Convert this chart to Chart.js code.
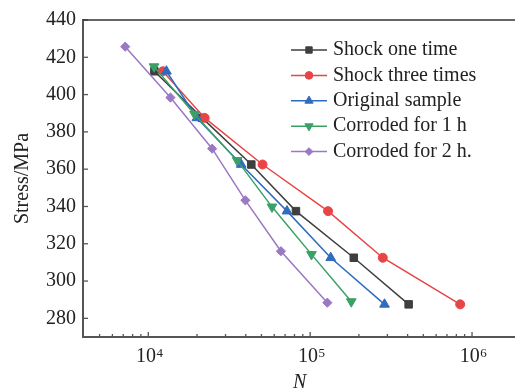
<!DOCTYPE html>
<html>
<head>
<meta charset="utf-8">
<script src="https://cdn.jsdelivr.net/npm/chart.js"></script>
<style>
  html, body { margin: 0; padding: 0; overflow: hidden; background: #fff; }
  #wrap { width: 523px; height: 395px; }
</style>
</head>
<body>
<div id="wrap"><canvas id="myChart" width="523" height="395"></canvas></div>
<script>
// series (N = cycles, stress in MPa)
const nombres = ['Shock one time', 'Shock three times', 'Original sample', 'Corroded for 1 h', 'Corroded for 2 h.'];

const n_una   = [10900, 21500, 43300, 81700, 186000, 406000];
const s_una   = [412.5, 387.5, 362.5, 337.5, 312.5, 287.5];

const n_tres  = [12300, 22300, 50800, 129000, 281000, 845000];
const s_tres  = [412.5, 387.5, 362.5, 337.5, 312.5, 287.5];

const n_orig  = [12950, 19950, 37500, 71900, 134000, 288000];
const s_orig  = [412.5, 387.5, 362.5, 337.5, 312.5, 287.5];

const n_c1h   = [10850, 19300, 35400, 58100, 101900, 179500];
const s_c1h   = [415, 389.5, 364.7, 339.8, 314.3, 289];

const n_c2h   = [7200, 13700, 24800, 39800, 66000, 127700];
const s_c2h   = [425.7, 398.4, 371, 343.3, 316, 288.4];

const ticks_y = [280, 300, 320, 340, 360, 380, 400, 420, 440];
const ticks_x = [5000, 6000, 7000, 8000, 9000, 10000, 20000, 30000, 40000, 50000, 60000, 70000, 80000, 90000,
                 100000, 200000, 300000, 400000, 500000, 600000, 700000, 800000, 900000, 1000000];

const colores = ['#3f3f3f', '#e84646', '#2f6cbd', '#3aa066', '#9a79c2'];
const formas  = ['rect', 'circle', 'triangle', 'triangle', 'rectRot'];
const giros   = [0, 0, 0, 180, 0];
const radios  = [5.3, 4.5, 5.6, 5.6, 4.6];

const fuente = 'Liberation Serif';

function puntos(xs, ys) {
    return xs.map((x, i) => ({ x: x, y: ys[i] }));
}

const series = [
    puntos(n_una, s_una),
    puntos(n_tres, s_tres),
    puntos(n_orig, s_orig),
    puntos(n_c1h, s_c1h),
    puntos(n_c2h, s_c2h)
];

function esDecada(v) {
    return Math.abs(Math.log10(v) - Math.round(Math.log10(v))) < 1e-9;
}

// ticks hacia adentro, etiquetas 10^n, borde superior y leyenda con marcador
const extras = {
    id: 'extras',
    afterDraw(chart) {
        const ctx = chart.ctx;
        const a = chart.chartArea;
        const sx = chart.scales.x;
        const sy = chart.scales.y;
        ctx.save();
        ctx.strokeStyle = '#555';
        ctx.lineWidth = 1.3;
        sx.ticks.forEach(t => {
            const px = sx.getPixelForValue(t.value);
            const largo = esDecada(t.value) ? 5 : 3;
            ctx.beginPath();
            ctx.moveTo(px, a.bottom);
            ctx.lineTo(px, a.bottom - largo);
            ctx.stroke();
        });
        sy.ticks.forEach(t => {
            const py = sy.getPixelForValue(t.value);
            ctx.beginPath();
            ctx.moveTo(a.left, py);
            ctx.lineTo(a.left + 5, py);
            ctx.stroke();
        });
        // top frame line
        ctx.strokeStyle = '#333';
        ctx.lineWidth = 1.5;
        ctx.beginPath();
        ctx.moveTo(a.left, a.top);
        ctx.lineTo(a.right, a.top);
        ctx.stroke();

        // etiquetas del eje x con exponente
        ctx.fillStyle = '#222';
        ctx.textBaseline = 'alphabetic';
        ctx.textAlign = 'left';
        sx.ticks.forEach(t => {
            if (!esDecada(t.value)) return;
            const px = sx.getPixelForValue(t.value);
            const e = String(Math.round(Math.log10(t.value)));
            ctx.font = '20px "' + fuente + '"';
            const w1 = ctx.measureText('10').width;
            ctx.font = '13px "' + fuente + '"';
            const w2 = ctx.measureText(e).width;
            const x0 = px - (w1 + w2) / 2 + 1;
            ctx.font = '20px "' + fuente + '"';
            ctx.fillText('10', x0, a.bottom + 25);
            ctx.font = '13px "' + fuente + '"';
            ctx.fillText(e, x0 + w1 + 0.5, a.bottom + 20);
        });

        // leyenda
        ctx.font = '20px "' + fuente + '"';
        ctx.textBaseline = 'middle';
        chart.data.datasets.forEach((ds, i) => {
            const y = 50 + i * 25.4;
            ctx.strokeStyle = ds.borderColor;
            ctx.lineWidth = 1.5;
            ctx.beginPath();
            ctx.moveTo(291, y);
            ctx.lineTo(327, y);
            ctx.stroke();
            ctx.fillStyle = ds.backgroundColor;
            ctx.strokeStyle = ds.borderColor;
            ctx.lineWidth = 1;
            Chart.helpers.drawPoint(ctx, {
                pointStyle: ds.pointStyle,
                rotation: ds.pointRotation,
                radius: ds.pointRadius * 0.85,
                borderWidth: 1
            }, 309, y);
            ctx.fillStyle = '#222';
            ctx.fillText(ds.label, 333, y);
        });
        ctx.restore();
    }
};

function grafico() {
    const ctx = document.getElementById('myChart');

    const datasets = series.map((d, i) => ({
        label: nombres[i],
        data: d,
        borderColor: colores[i],
        backgroundColor: colores[i],
        borderWidth: 1.5,
        pointStyle: formas[i],
        pointRotation: giros[i],
        pointRadius: radios[i],
        pointBorderWidth: 1,
        order: nombres.length - i
    }));

    new Chart(ctx, {
        type: 'line',
        data: { datasets: datasets },
        options: {
            responsive: false,
            animation: false,
            layout: { padding: { top: 20, right: 0, left: 0, bottom: 0 } },
            plugins: {
                legend: { display: false },
                tooltip: { enabled: false }
            },
            scales: {
                x: {
                    type: 'logarithmic',
                    min: 3950,
                    max: 1880000,
                    grid: { display: false, drawTicks: false },
                    border: { display: true, color: '#555', width: 2 },
                    afterBuildTicks: s => { s.ticks = ticks_x.map(v => ({ value: v })); },
                    afterFit: s => { s.height = 58; },
                    ticks: { display: false, padding: 0 },
                    title: {
                        display: true,
                        text: 'N',
                        color: '#222',
                        padding: { top: 0, bottom: 0 },
                        font: { family: fuente, size: 20, style: 'italic' }
                    }
                },
                y: {
                    min: 270,
                    max: 440,
                    grid: { display: false, drawTicks: false },
                    border: { display: true, color: '#555', width: 2 },
                    afterBuildTicks: s => { s.ticks = ticks_y.map(v => ({ value: v })); },
                    afterFit: s => { s.width = 83; },
                    ticks: {
                        padding: 7,
                        color: '#222',
                        font: { family: fuente, size: 20 }
                    },
                    title: {
                        display: true,
                        text: 'Stress/MPa',
                        color: '#222',
                        padding: { top: 11, bottom: 0 },
                        font: { family: fuente, size: 20 }
                    }
                }
            }
        },
        plugins: [extras]
    });
}

grafico();
</script>
</body>
</html>
